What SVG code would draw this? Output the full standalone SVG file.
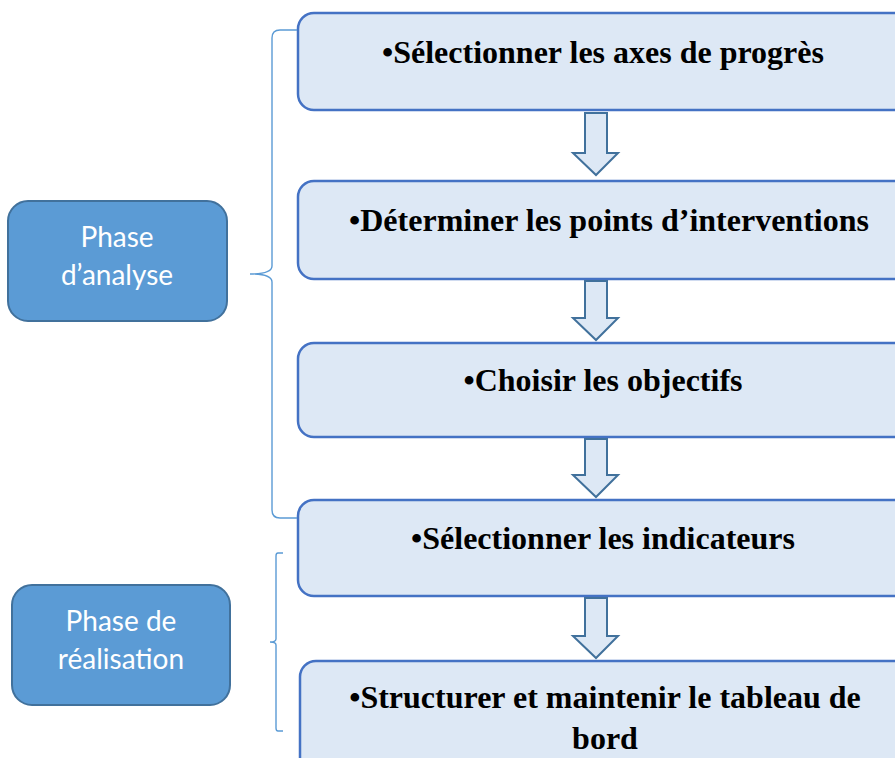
<svg xmlns="http://www.w3.org/2000/svg" width="895" height="758" viewBox="0 0 895 758">
  <defs>
    <style>
      .step rect { fill: #dde8f5; stroke: #4472c4; stroke-width: 2.5; }
      .step text { font-family: "Liberation Serif", "Times New Roman", serif; font-weight: bold; font-size: 32px; fill: #000; text-anchor: middle; }
      .phase rect { fill: #5b9bd5; stroke: #41719c; stroke-width: 2; }
      .phase text { font-family: Lato, "Open Sans", sans-serif; font-size: 28px; fill: #fff; text-anchor: middle; }
      .arrow { fill: #dde8f5; stroke: #41719c; stroke-width: 2; stroke-linejoin: miter; }
      .brace { fill: none; stroke: #5b9bd5; stroke-width: 1.4; }
    </style>
  </defs>

  <!-- process steps -->
  <g id="step1" class="step">
    <rect x="298" y="13" width="612" height="97" rx="16"/>
    <text x="603" y="63">•Sélectionner les axes de progrès</text>
  </g>
  <g id="step2" class="step">
    <rect x="298" y="181" width="612" height="98" rx="16"/>
    <text x="609" y="231">•Déterminer les points d’interventions</text>
  </g>
  <g id="step3" class="step">
    <rect x="298" y="343" width="612" height="94" rx="16"/>
    <text x="603" y="391">•Choisir les objectifs</text>
  </g>
  <g id="step4" class="step">
    <rect x="298" y="500" width="612" height="96" rx="16"/>
    <text x="603" y="549">•Sélectionner les indicateurs</text>
  </g>
  <g id="step5" class="step">
    <rect x="300" y="661" width="612" height="120" rx="16"/>
    <text x="605" y="708">•Structurer et maintenir le tableau de</text>
    <text x="605" y="749">bord</text>
  </g>

  <!-- phase labels -->
  <g id="phase-analyse" class="phase">
    <rect x="8" y="201" width="219" height="120" rx="20"/>
    <text x="117" y="247">Phase</text>
    <text x="117" y="285">d’analyse</text>
  </g>
  <g id="phase-realisation" class="phase">
    <rect x="12" y="585" width="218" height="120" rx="20"/>
    <text x="121" y="631">Phase de</text>
    <text x="121" y="669">réalisation</text>
  </g>

  <!-- connectors: block arrows and braces -->
  <g id="connectors">
    <path class="arrow" d="M585 113 H607 V153 H618 L596 175 L573 153 H585 Z"/>
    <path class="arrow" d="M585 281 H607 V318 H618 L596 340 L573 318 H585 Z"/>
    <path class="arrow" d="M585 439 H607 V475 H618 L596 497 L573 475 H585 Z"/>
    <path class="arrow" d="M585 598 H607 V636 H618 L596 658 L573 636 H585 Z"/>

    <path class="brace" d="M297 30 H280 Q272 30 272 38 V266 Q272 274 250 274 Q272 274 272 282 V510 Q272 518 280 518 H297"/>
    <path class="brace" d="M283 553 H278 Q276 553 276 556 V639 Q276 642 270 642 Q276 642 276 645 V728 Q276 731 278 731 H283"/>
  </g>
</svg>
